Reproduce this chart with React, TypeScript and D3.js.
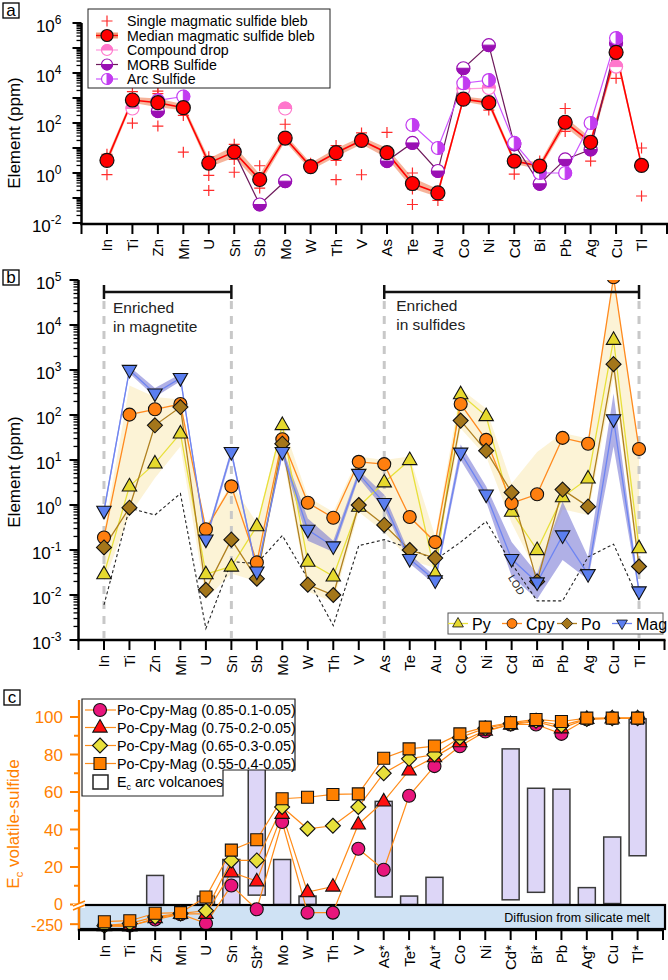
import { useEffect, useRef } from "react";
import * as d3 from "d3";

const ANCHO = 668;
const ALTO = 980;
const FUENTE = "'Liberation Sans', Arial, Helvetica, sans-serif";

const ELEMENTOS = ["In", "Ti", "Zn", "Mn", "U", "Sn", "Sb", "Mo", "W", "Th", "V", "As", "Te", "Au", "Co", "Ni", "Cd", "Bi", "Pb", "Ag", "Cu", "Tl"];
const ELEMENTOS_C = ["In", "Ti", "Zn", "Mn", "U", "Sn", "Sb*", "Mo", "W", "Th", "V", "As*", "Te*", "Au*", "Co", "Ni", "Cd*", "Bi*", "Pb", "Ag*", "Cu", "Tl*"];

// (a) Gotas de sulfuro magmático (ppm)
const medianaBleb = [3.2, 830, 650, 410, 2.5, 7, 0.55, 25, 1.8, 6.5, 20, 6.5, 0.38, 0.16, 900, 650, 3.0, 1.9, 107, 17, 67000, 2];
const bandaBlebMin = [2.2, 650, 430, 320, 1.7, 4.2, 0.35, 18, 1.3, 4.5, 14, 4, 0.24, 0.11, 720, 470, 2.3, 1.4, 70, 11, 38000, 1.8];
const bandaBlebMax = [4.5, 1100, 950, 560, 3.8, 12, 0.9, 35, 2.5, 9.5, 28, 10, 0.65, 0.23, 1150, 900, 4.0, 2.6, 170, 26, 110000, 2.2];
const blebsIndividuales = [
  [5.6, 0.86], [1800, 98], [1900, 1500, 75], [200, 6.8], [4.5, 0.8, 0.2], [14, 3.5, 1.07],
  [1.95, 0.25], [89], [2.45], [12.6, 3.2, 0.54], [40, 0.85], [42], [1.0, 0.23, 0.055], [0.08],
  [2100], [2500, 330], [0.9], [3, 0.96], [380, 46], [3.0], [18000, 6100], [10, 0.12],
];
const gotaCompuesta = [null, 380, null, null, null, null, null, 380, null, null, null, null, null, null, 2300, 2500, null, null, null, null, 18000, null];
const sulfuroMORB = [null, null, 300, null, null, 7, 0.055, 0.47, null, null, null, 3.0, 16, 1.2, 15500, 130000, 14, 0.37, 3.5, 8.7, 160000, null];
const sulfuroArco = [null, null, 800, 1150, null, null, null, null, null, null, null, null, 83, 10, 3900, 5200, 16, 1.0, 1.0, 100, 250000, null];

// (b) Minerales (ppm)
const py = [0.029, 2.6, 8.4, 39, 0.029, 0.043, 0.34, 60, 0.055, 0.026, 0.92, 3.2, 10, 0.03, 290, 95, 0.71, 0.1, 1.5, 3.9, 4700, 0.11];
const cpy = [0.19, 102, 134, 175, 0.29, 2.6, 0.053, 29, 1.12, 0.52, 9.1, 8.1, 0.54, 0.15, 175, 28, 1.1, 1.73, 31, 23, 115000, 17.5];
const po = [0.114, 0.87, 59, 150, 0.013, 0.17, 0.023, 23, 0.017, 0.01, 1.0, 0.36, 0.1, 0.066, 75, 16, 1.9, 0.02, 2.2, 0.92, 1350, 0.043];
const mag = [0.74, 1000, 300, 660, 0.17, 15, 0.033, 15, 0.28, 0.12, 4.9, 1.1, 0.063, 0.021, 14.5, 1.7, 0.063, 0.019, 0.21, 0.029, 80, 0.012];
const magMin = [0.6, 850, 250, 560, 0.14, 12, 0.028, 12, 0.16, 0.09, 4, 0.8, 0.05, 0.017, 10, 1.2, 0.026, 0.008, 0.06, 0.022, 20, 0.01];
const magMax = [0.9, 1200, 400, 820, 0.2, 18, 0.04, 19, 0.5, 0.16, 6, 1.7, 0.08, 0.026, 22, 2.6, 0.15, 0.03, 1.2, 0.07, 300, 0.014];
const sulfMin = [0.02, 0.6, 4, 20, 0.008, 0.03, 0.02, 15, 0.012, 0.007, 0.7, 0.25, 0.06, 0.04, 50, 12, 0.4, 0.03, 0.8, 0.6, 700, 0.03];
const sulfMax = [0.25, 450, 250, 220, 0.35, 3, 0.4, 70, 1.5, 0.7, 12, 10, 12, 0.2, 380, 140, 3, 15, 40, 30, 120000, 20];
const lod = [0.006, 0.85, 0.6, 1.8, 0.0018, 0.055, 0.05, 0.21, 0.023, 0.0021, 0.125, 0.17, 0.11, 0.06, 0.15, 0.43, 0.05, 0.0074, 0.0074, 0.07, 0.135, 0.0077];

// (c) Ec volátil-sulfuro (%); negativos en el tramo de difusión
const ec85 = [-262, -268, -190, -120, -240, 10.1, -56, 44, -100, -100, 29.7, 18.5, 58, 73.8, 84.4, 92.3, 96, 96, 91, 98.8, 99.3, 99.3];
const ec75 = [-275, -280, -170, -115, -115, 17.2, 12.4, 48.4, 6.6, 9.6, 42.7, 55, 71.5, 78.6, 86.6, 92.8, 96, 97.5, 94, 99, 99.3, 99.3];
const ec65 = [-270, -240, -155, -110, -75, 23.5, 23.5, 52, 40.4, 42, 52, 70, 77.7, 80, 89, 94, 96.5, 98, 95.5, 99, 99.4, 99.4];
const ec55 = [-218, -205, -108, -100, 4, 29, 34.5, 56.4, 57.2, 58.7, 59, 78, 83, 84.5, 91, 94.6, 97, 98.7, 97.6, 99.4, 99.4, 99.4];
const arcoMin = [null, null, 0, null, 0, 0, 5, 0, 0, null, null, 4, 0, 0, null, null, 2.5, 6.5, 0, 0, 0.5, 26];
const arcoMax = [null, null, 15.5, null, 4.5, 24, 95, 24, 4.5, null, null, 55, 4.5, 14.5, null, null, 83, 62, 61.5, 9, 36, 99];

const escalaX = (x0: number, x1: number) =>
  d3.scalePoint<number>().domain(d3.range(22)).range([x0, x1]).padding(1);

function ejeX(g: any, x: any, y0: number, etiquetas: string[]) {
  const [r0, r1] = x.range();
  const paso = x.step();
  g.append("line").attr("x1", r0 - 1.2).attr("x2", r1 + 1).attr("y1", y0).attr("y2", y0)
    .attr("stroke", "#000").attr("stroke-width", 2.5);
  g.selectAll(null).data(d3.range(24)).join("line")
    .attr("x1", (k: number) => r0 + k * paso).attr("x2", (k: number) => r0 + k * paso)
    .attr("y1", y0).attr("y2", y0 + 10).attr("stroke", "#000").attr("stroke-width", 2);
  g.selectAll(null).data(etiquetas).join("text")
    .attr("transform", (_d: string, i: number) => `translate(${x(i) + 5.5},${y0 + 15}) rotate(-90)`)
    .attr("text-anchor", "end").attr("font-size", 15).text((d: string) => d);
}

function ejeLog(g: any, y: any, x0: number, expMin: number, expMax: number, cada: number, sep: number) {
  g.append("line").attr("x1", x0).attr("x2", x0).attr("y1", y(10 ** expMin) + 1.2).attr("y2", y(10 ** expMax))
    .attr("stroke", "#000").attr("stroke-width", 2.5);
  for (let e = expMin; e <= expMax; e++) {
    const yy = y(10 ** e);
    g.append("line").attr("x1", x0 - 9).attr("x2", x0).attr("y1", yy).attr("y2", yy)
      .attr("stroke", "#000").attr("stroke-width", 2);
    if ((expMax - e) % cada === 0) {
      const t = g.append("text").attr("x", x0 - sep).attr("y", yy + 9).attr("text-anchor", "end").attr("font-size", 17);
      t.append("tspan").text("10");
      t.append("tspan").attr("font-size", 12).attr("dy", -8).text(String(e));
    }
    if (e < expMax) {
      for (let m = 2; m <= 9; m++) {
        const ym = y(m * 10 ** e);
        g.append("line").attr("x1", x0 - 5).attr("x2", x0).attr("y1", ym).attr("y2", ym)
          .attr("stroke", "#000").attr("stroke-width", 1.3);
      }
    }
  }
}

function tituloY(g: any, x: number, yc: number, texto: string, color = "#000") {
  g.append("text").attr("transform", `translate(${x},${yc}) rotate(-90)`).attr("text-anchor", "middle")
    .attr("font-size", 17).attr("fill", color).text(texto);
}

function etiquetaPanel(g: any, x: number, y: number, letra: string) {
  g.append("rect").attr("x", x).attr("y", y).attr("width", 16).attr("height", 15)
    .attr("fill", "#fff").attr("stroke", "#000").attr("stroke-width", 1.3);
  g.append("text").attr("x", x + 8).attr("y", y + 12.5).attr("text-anchor", "middle").attr("font-size", 17).text(letra);
}

// Círculo con una mitad rellena
function mediaLuna(cx: number, cy: number, r: number, lado: string) {
  if (lado === "arriba") return `M${cx - r},${cy}A${r},${r} 0 0 1 ${cx + r},${cy}Z`;
  if (lado === "abajo") return `M${cx - r},${cy}A${r},${r} 0 0 0 ${cx + r},${cy}Z`;
  return `M${cx},${cy - r}A${r},${r} 0 0 1 ${cx},${cy + r}Z`;
}

function marcaMedia(g: any, cx: number, cy: number, color: string, lado: string, r = 6.5) {
  g.append("circle").attr("cx", cx).attr("cy", cy).attr("r", r).attr("fill", "#fff").attr("stroke", color).attr("stroke-width", 1.2);
  g.append("path").attr("d", mediaLuna(cx, cy, r, lado)).attr("fill", color).attr("stroke", color).attr("stroke-width", 1);
}

function cruz(g: any, cx: number, cy: number, s = 5.5) {
  g.append("path").attr("d", `M${cx - s},${cy}H${cx + s}M${cx},${cy - s}V${cy + s}`)
    .attr("stroke", "#ff2a2a").attr("stroke-width", 1.2).attr("fill", "none");
}

const formas: Record<string, string> = {
  trianguloArriba: "M0,-8L7.2,4.6L-7.2,4.6Z",
  trianguloAbajo: "M0,8L7.2,-4.6L-7.2,-4.6Z",
  rombo: "M0,-7.5L7.5,0L0,7.5L-7.5,0Z",
  cuadrado: "M-6,-6H6V6H-6Z",
};

function marca(g: any, cx: number, cy: number, forma: string, relleno: string) {
  if (forma === "circulo") {
    g.append("circle").attr("cx", cx).attr("cy", cy).attr("r", 6.5).attr("fill", relleno).attr("stroke", "#111").attr("stroke-width", 1.1);
  } else {
    g.append("path").attr("d", formas[forma]).attr("transform", `translate(${cx},${cy})`)
      .attr("fill", relleno).attr("stroke", "#111").attr("stroke-width", 1.1);
  }
}

function dibujarPanelA(g: any) {
  const x = escalaX(81.5, 667);
  const y = d3.scaleLog().domain([1e-2, 1e6]).range([223, 23]);
  const idx = d3.range(22);

  const banda = d3.area<number>().x((i) => x(i)!).y0((i) => y(bandaBlebMin[i])).y1((i) => y(bandaBlebMax[i]));
  g.append("path").attr("d", banda(idx)).attr("fill", "#f39a78").attr("opacity", 0.75);
  const lineaMed = d3.line<number>().x((i) => x(i)!).y((i) => y(medianaBleb[i]));
  g.append("path").attr("d", lineaMed(idx)).attr("fill", "none").attr("stroke", "#ff0000").attr("stroke-width", 1.6);

  blebsIndividuales.forEach((vals, i) => vals.forEach((v) => cruz(g, x(i)!, y(v))));

  const series: [any[], string, string, string][] = [
    [gotaCompuesta, "#ff99dd", "#ff77cc", "arriba"],
    [sulfuroMORB, "#6e1a5c", "#9a10b4", "abajo"],
    [sulfuroArco, "#cc55ff", "#c23cf0", "derecha"],
  ];
  series.forEach(([vals, colLinea]) => {
    const linea = d3.line<number>().defined((i) => vals[i] != null).x((i) => x(i)!).y((i) => y(vals[i]));
    g.append("path").attr("d", linea(idx)).attr("fill", "none").attr("stroke", colLinea).attr("stroke-width", 1.2);
  });
  series.forEach(([vals, , colMarca, lado]) => {
    idx.filter((i) => vals[i] != null).forEach((i) => marcaMedia(g, x(i)!, y(vals[i]), colMarca, lado));
  });

  idx.forEach((i) =>
    g.append("circle").attr("cx", x(i)!).attr("cy", y(medianaBleb[i])).attr("r", 7)
      .attr("fill", "#ff0000").attr("stroke", "#111").attr("stroke-width", 1.2)
  );

  ejeLog(g, y, 81.5, -2, 6, 2, 20);
  ejeX(g, x, 224, ELEMENTOS);
  tituloY(g, 20, 133, "Element (ppm)");

  // Leyenda
  const ley = g.append("g");
  ley.append("rect").attr("x", 88).attr("y", 9).attr("width", 242).attr("height", 79)
    .attr("fill", "#fff").attr("stroke", "#222").attr("stroke-width", 1);
  const filas: [string, number][] = [
    ["Single magmatic sulfide bleb", 21],
    ["Median magmatic sulfide bleb", 35.5],
    ["Compound drop", 50],
    ["MORB Sulfide", 64.5],
    ["Arc Sulfide", 79],
  ];
  filas.forEach(([t, yy]) => {
    ley.append("text").attr("x", 127).attr("y", yy + 5).attr("font-size", 14.2).text(t);
  });
  cruz(ley, 107, 21);
  ley.append("line").attr("x1", 96).attr("x2", 118).attr("y1", 35.5).attr("y2", 35.5).attr("stroke", "#f39a78").attr("stroke-width", 6);
  ley.append("line").attr("x1", 96).attr("x2", 118).attr("y1", 35.5).attr("y2", 35.5).attr("stroke", "#ff0000").attr("stroke-width", 1.3);
  ley.append("circle").attr("cx", 107).attr("cy", 35.5).attr("r", 6).attr("fill", "#ff0000").attr("stroke", "#111").attr("stroke-width", 1.2);
  series.forEach(([, colLinea, colMarca, lado], k) => {
    const yy = [50, 64.5, 79][k];
    ley.append("line").attr("x1", 96).attr("x2", 118).attr("y1", yy).attr("y2", yy).attr("stroke", colLinea).attr("stroke-width", 1.2);
    marcaMedia(ley, 107, yy, colMarca, lado, 5.5);
  });

  etiquetaPanel(g, 3, 3, "a");
}

function dibujarPanelB(g: any) {
  const x = escalaX(78.5, 664.5);
  const y = d3.scaleLog().domain([1e-3, 1e5]).range([640, 280]);
  const idx = d3.range(22);

  g.append("clipPath").attr("id", "recorteB").append("rect").attr("x", 0).attr("y", 280).attr("width", ANCHO).attr("height", 362);
  const datos = g.append("g").attr("clip-path", "url(#recorteB)");

  const area = (lo: number[], hi: number[]) =>
    d3.area<number>().x((i) => x(i)!).y0((i) => y(lo[i])).y1((i) => y(hi[i]))(idx);
  datos.append("path").attr("d", area(sulfMin, sulfMax)).attr("fill", "#fbeec4").attr("opacity", 0.7);
  datos.append("path").attr("d", area(magMin, magMax)).attr("fill", "#7070d2").attr("opacity", 0.55);

  // Columnas guía de los dos grupos
  [0, 5, 11, 21].forEach((i) => {
    datos.append("line").attr("x1", x(i)!).attr("x2", x(i)!).attr("y1", 301).attr("y2", 638)
      .attr("stroke", "#c8c8c8").attr("stroke-width", 3).attr("stroke-dasharray", "8,7");
  });

  const lineaLod = d3.line<number>().x((i) => x(i)!).y((i) => y(lod[i]));
  datos.append("path").attr("d", lineaLod(idx)).attr("fill", "none").attr("stroke", "#222")
    .attr("stroke-width", 1.1).attr("stroke-dasharray", "3,2.5");
  datos.append("text").attr("transform", `translate(${x(16)! - 4},${y(0.05) + 14}) rotate(58)`)
    .attr("font-size", 10.5).attr("fill", "#222").text("LOD");

  const minerales: [number[], string, string, string][] = [
    [py, "#e8e03a", "trianguloArriba", "#e6d92e"],
    [cpy, "#ff8a1f", "circulo", "#ff7f0f"],
    [po, "#b08020", "rombo", "#a4761a"],
    [mag, "#6d84f2", "trianguloAbajo", "#5b7ff0"],
  ];
  minerales.forEach(([vals, col]) => {
    const linea = d3.line<number>().x((i) => x(i)!).y((i) => y(vals[i]));
    datos.append("path").attr("d", linea(idx)).attr("fill", "none").attr("stroke", col).attr("stroke-width", 1.3);
  });
  minerales.forEach(([vals, , forma, relleno]) => {
    idx.forEach((i) => marca(datos, x(i)!, y(vals[i]), forma, relleno));
  });

  // Corchetes de enriquecimiento
  const corchete = (i0: number, i1: number) => {
    g.append("path").attr("d", `M${x(i0)},292H${x(i1)}M${x(i0)},285V299M${x(i1)},285V299`)
      .attr("stroke", "#111").attr("stroke-width", 2.5).attr("fill", "none");
  };
  corchete(0, 5);
  corchete(11, 21);
  const texto = (xx: number, yy: number, t: string) =>
    g.append("text").attr("x", xx).attr("y", yy).attr("font-size", 15.5).attr("fill", "#222").text(t);
  texto(x(0)! + 9, 313, "Enriched");
  texto(x(0)! + 9, 332, "in magnetite");
  texto(x(11)! + 12, 311, "Enriched");
  texto(x(11)! + 12, 330, "in sulfides");

  ejeLog(g, y, 78.5, -3, 5, 1, 17);
  ejeX(g, x, 640, ELEMENTOS);
  tituloY(g, 20, 472, "Element (ppm)");

  // Leyenda de minerales
  const ley = g.append("g");
  ley.append("rect").attr("x", 448).attr("y", 613).attr("width", 215).attr("height", 21)
    .attr("fill", "#fff").attr("stroke", "#555").attr("stroke-width", 1);
  const pos: [number, string][] = [[458, "Py"], [512, "Cpy"], [567, "Po"], [622, "Mag"]];
  minerales.forEach(([, col, forma, relleno], k) => {
    const cx = pos[k][0];
    ley.append("line").attr("x1", cx - 10).attr("x2", cx + 10).attr("y1", 623.5).attr("y2", 623.5).attr("stroke", col).attr("stroke-width", 1.3);
    ley.append("g").attr("transform", `translate(${cx},623.5) scale(0.75)`).call((s: any) => marca(s, 0, 0, forma, relleno));
    ley.append("text").attr("x", cx + 14).attr("y", 629.5).attr("font-size", 16).text(pos[k][1]);
  });

  etiquetaPanel(g, 3, 270, "b");
}

function dibujarPanelC(g: any) {
  const x = escalaX(79, 663);
  const yArriba = d3.scaleLinear().domain([0, 100]).range([904.5, 717]);
  const yAbajo = d3.scaleLinear().domain([0, -300]).range([905, 928]);
  const yC = (v: number) => (v >= 0 ? yArriba(v) : yAbajo(v));
  const idx = d3.range(22);
  const naranja = "#ff8000";

  // Barras de volcanes de arco
  idx.filter((i) => arcoMax[i] != null).forEach((i) => {
    const y0 = yArriba(arcoMin[i] as number);
    const y1 = yArriba(arcoMax[i] as number);
    g.append("rect").attr("x", x(i)! - 8.5).attr("y", y1).attr("width", 17).attr("height", y0 - y1)
      .attr("fill", "#ddd6f7").attr("stroke", "#3a3a3a").attr("stroke-width", 1.5);
  });

  // Franja de difusión desde el fundido silicatado
  g.append("rect").attr("x", 79).attr("y", 905).attr("width", 586).attr("height", 24)
    .attr("fill", "#cfe2f4").attr("stroke", "#000").attr("stroke-width", 2.2);
  g.append("text").attr("x", 650).attr("y", 922).attr("text-anchor", "end").attr("font-size", 12.5)
    .text("Diffusion from silicate melt");

  const modelos: [number[], string, string][] = [
    [ec85, "circulo", "#e8157c"],
    [ec75, "trianguloArriba", "#ff1010"],
    [ec65, "rombo", "#e8e03a"],
    [ec55, "cuadrado", "#ff8000"],
  ];
  modelos.forEach(([vals]) => {
    const linea = d3.line<number>().x((i) => x(i)!).y((i) => yC(vals[i]));
    g.append("path").attr("d", linea(idx)).attr("fill", "none").attr("stroke", "#ff8c1a").attr("stroke-width", 1.2);
  });
  modelos.forEach(([vals, forma, relleno]) => {
    idx.forEach((i) => marca(g, x(i)!, yC(vals[i]), forma, relleno));
  });

  // Eje Y naranja con corte
  g.append("line").attr("x1", 79).attr("x2", 79).attr("y1", 700).attr("y2", 929)
    .attr("stroke", naranja).attr("stroke-width", 2.2);
  d3.range(0, 101, 10).forEach((v) => {
    const yy = yArriba(v);
    const mayor = v % 20 === 0;
    g.append("line").attr("x1", mayor ? 70 : 74).attr("x2", 79).attr("y1", yy).attr("y2", yy)
      .attr("stroke", naranja).attr("stroke-width", 2);
    if (mayor) {
      g.append("text").attr("x", 63).attr("y", v === 0 ? 909.5 : yy + 6).attr("text-anchor", "end")
        .attr("font-size", v === 0 ? 16 : 17).attr("fill", naranja).text(String(v));
    }
  });
  g.append("line").attr("x1", 70).attr("x2", 79).attr("y1", yAbajo(-250)).attr("y2", yAbajo(-250))
    .attr("stroke", naranja).attr("stroke-width", 2);
  g.append("text").attr("x", 63).attr("y", 930.5).attr("text-anchor", "end")
    .attr("font-size", 16).attr("fill", naranja).text("-250");
  g.append("rect").attr("x", 73).attr("y", 904).attr("width", 12).attr("height", 4).attr("fill", "#fff");
  g.append("path").attr("d", "M73,906L85,901M73,910L85,905").attr("stroke", naranja).attr("stroke-width", 1.5);

  ejeX(g, x, 930, ELEMENTOS_C);

  const titulo = g.append("text").attr("transform", "translate(19,824) rotate(-90)").attr("text-anchor", "middle")
    .attr("font-size", 17).attr("fill", naranja);
  titulo.append("tspan").text("E");
  titulo.append("tspan").attr("font-size", 11).attr("dy", 4).text("c");
  titulo.append("tspan").attr("dy", -4).text(" volatile-sulfide");

  // Leyenda de modelos
  const ley = g.append("g");
  ley.append("path").attr("d", "M82,699H295V770H223V796H82Z").attr("fill", "#fff").attr("stroke", "#222").attr("stroke-width", 1.2);
  const textos = [
    "Po-Cpy-Mag (0.85-0.1-0.05)",
    "Po-Cpy-Mag (0.75-0.2-0.05)",
    "Po-Cpy-Mag (0.65-0.3-0.05)",
    "Po-Cpy-Mag (0.55-0.4-0.05)",
  ];
  const filas = [710, 727.5, 745.5, 763.5];
  modelos.forEach(([, forma, relleno], k) => {
    const yy = filas[k];
    ley.append("line").attr("x1", 85).attr("x2", 116).attr("y1", yy).attr("y2", yy).attr("stroke", "#ff8c1a").attr("stroke-width", 1.2);
    marca(ley, 100, yy, forma, relleno);
    ley.append("text").attr("x", 117).attr("y", yy + 5).attr("font-size", 14.3).text(textos[k]);
  });
  ley.append("rect").attr("x", 93).attr("y", 775).attr("width", 15).attr("height", 14)
    .attr("fill", "#fff").attr("stroke", "#222").attr("stroke-width", 1.5);
  const tEc = ley.append("text").attr("x", 117).attr("y", 787).attr("font-size", 14.3);
  tEc.append("tspan").text("E");
  tEc.append("tspan").attr("font-size", 9).attr("dy", 3).text("c");
  tEc.append("tspan").attr("dy", -3).text(" arc volcanoes");

  etiquetaPanel(g, 4, 690, "c");
}

export default function App() {
  const svgRef = useRef<SVGSVGElement>(null);

  useEffect(() => {
    if (!svgRef.current) return;
    const svg = d3.select(svgRef.current);
    svg.selectAll("*").remove();
    svg.append("rect").attr("width", ANCHO).attr("height", ALTO).attr("fill", "#fff");
    dibujarPanelA(svg.append("g"));
    dibujarPanelB(svg.append("g"));
    dibujarPanelC(svg.append("g"));
  }, []);

  return (
    <svg
      ref={svgRef}
      width={ANCHO}
      height={ALTO}
      viewBox={`0 0 ${ANCHO} ${ALTO}`}
      style={{ position: "absolute", left: 0, top: 0, fontFamily: FUENTE }}
    />
  );
}
